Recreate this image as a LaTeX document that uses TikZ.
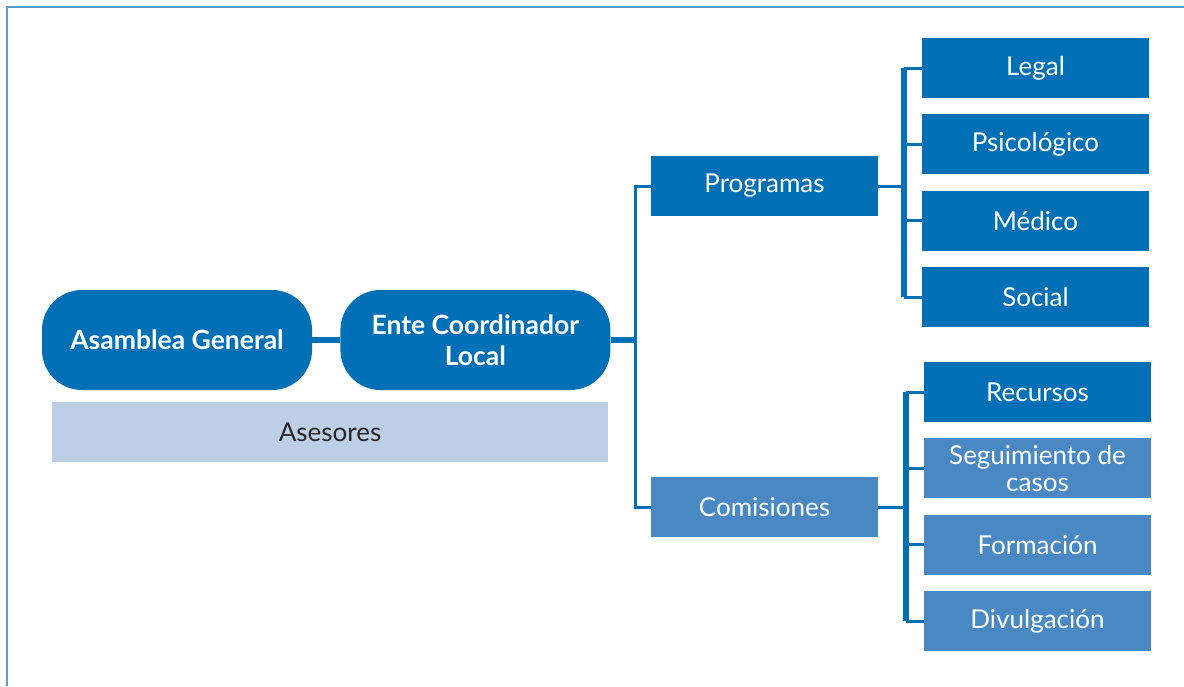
\documentclass[tikz,border=0pt]{standalone}
\usepackage{fontspec}
\setmainfont{Lato}
\usetikzlibrary{positioning}
\usetikzlibrary{calc}
\definecolor{azul}{HTML}{0070B6}
\definecolor{azulclaro}{HTML}{4A88C4}
\definecolor{gris}{HTML}{BDCEE7}
\definecolor{marco}{HTML}{5B9BD8}

\begin{document}
\begin{tikzpicture}[x=1pt, y=-1pt,
        ovalo/.style={fill=azul, text=white, rounded corners=40pt, minimum width=270pt, minimum height=100pt, inner sep=0pt, align=center, font=\fontsize{26.5}{31}\selectfont\bfseries},
        caja/.style={fill=azul, text=white, minimum width=227pt, minimum height=60pt, inner sep=0pt, align=center, font=\fontsize{26}{27}\selectfont},
        cajaclara/.style={caja, fill=azulclaro},
        linea/.style={draw=azul, line width=3pt},
        barra/.style={draw=azul, line width=6pt}]
            \useasboundingbox (0,0) rectangle (1184,686);
            \draw[marco, line width=2pt] (1184,6.5) -- (6.5,6.5) -- (6.5,686);

            \node[ovalo] (asamblea) at (177,340) {Asamblea General};
            \node[ovalo, right = 28pt of asamblea] (ente) {Ente Coordinador\\Local};
            \node[fill=gris, text=black!85, minimum width=556pt, minimum height=60pt, font=\fontsize{26}{27}\selectfont] (asesores) at (330,432) {Asesores};

            \node[caja] (programas) at (764.5,186) {Programas};
            \node[cajaclara] (comisiones) at (764.5,507) {Comisiones};

            \node[caja] (legal) at (1035.5,68) {Legal};
            \node[caja, below = 16pt of legal] (psico) {Psicológico};
            \node[caja, below = 16pt of psico] (medico) {Médico};
            \node[caja, below = 16pt of medico] (social) {Social};

            \node[caja] (recursos) at (1037.5,392) {Recursos};
            \node[cajaclara, below = 16pt of recursos] (seguimiento) {Seguimiento de\\casos};
            \node[cajaclara, below = 16pt of seguimiento] (formacion) {Formación};
            \node[cajaclara, below = 16pt of formacion] (divulgacion) {Divulgación};

            \coordinate (tronco) at (635,0);
            \coordinate (ramaP) at (904,0);
            \coordinate (ramaC) at (906,0);

            \draw[barra] (asamblea) -- (ente);
            \draw[barra] (ente.east) -- (ente.east -| tronco);
            \draw[linea] (programas.west) -| (tronco |- comisiones.west) -- (comisiones.west);

            \draw[linea] (programas.east) -- (programas.east -| ramaP);
            \draw[barra] (legal.west -| ramaP) -- (social.west -| ramaP);
            \foreach \n in {legal, psico, medico, social}
                \draw[linea] (\n.west -| ramaP) -- (\n.west);

            \draw[linea] (comisiones.east) -- (comisiones.east -| ramaC);
            \draw[barra] (recursos.west -| ramaC) -- (divulgacion.west -| ramaC);
            \foreach \n in {recursos, seguimiento, formacion, divulgacion}
                \draw[linea] (\n.west -| ramaC) -- (\n.west);
        \end{tikzpicture}
\end{document}
